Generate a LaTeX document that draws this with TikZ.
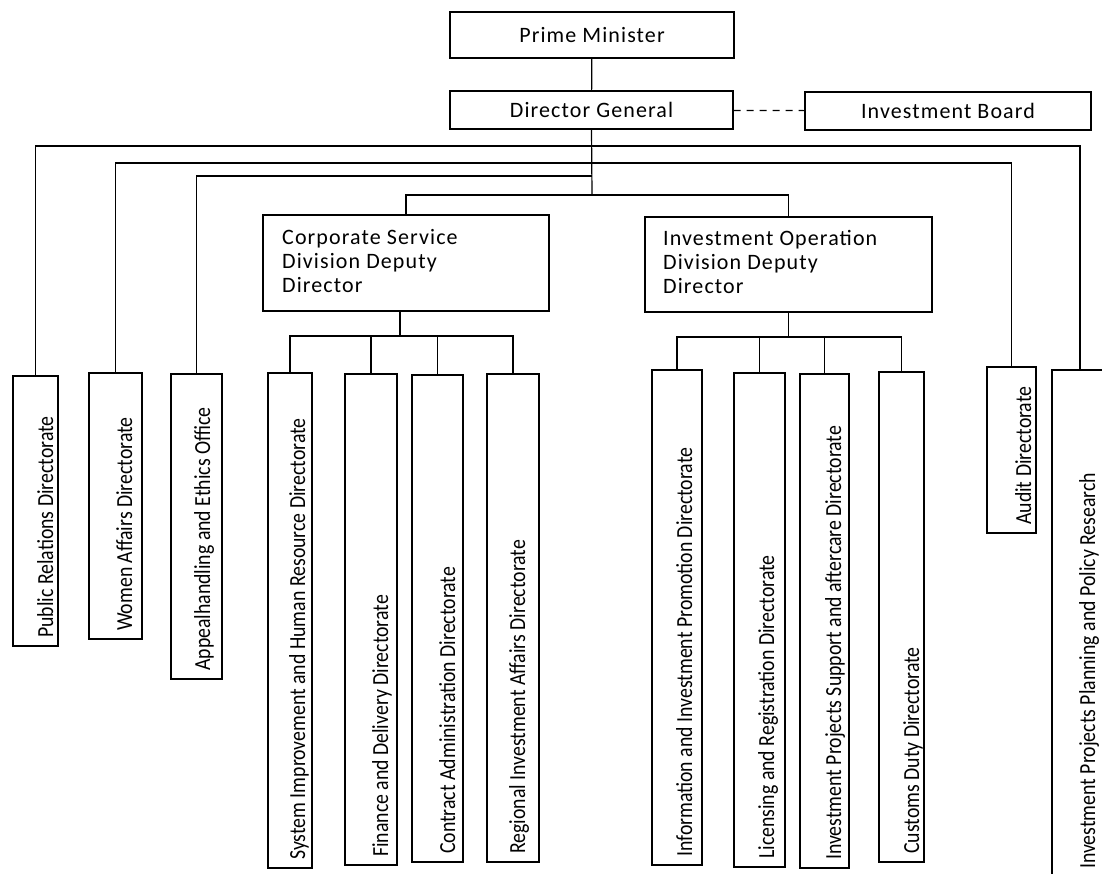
\documentclass[tikz,border=0pt]{standalone}
\usepackage{fontspec}
\newfontfamily\boxfont{Carlito}[LetterSpace=5]
\newfontfamily\vertfont{Carlito}[FakeStretch=0.86]

\tikzset{
  post/.style={draw, line width=1.2pt, inner sep=0pt},
  link/.style={line width=1.2pt},
  htext/.style={inner sep=0pt, font={\boxfont\fontsize{22}{24}\selectfont}},
  vlabel/.style={rotate=90, anchor=base west, inner sep=0pt, font={\vertfont\fontsize{23}{27}\selectfont}}
}

\begin{document}
\begin{tikzpicture}[x=1pt,y=-1pt]
\useasboundingbox (0,0) rectangle (1102,873);
\clip (0,0) rectangle (1102,873);
% top of the chart
\node[post,htext,minimum width=284pt,minimum height=46pt] (pm) at (592,35) {Prime Minister};
\node[post,htext,minimum width=283pt,minimum height=38pt] (dg) at (591.5,110) {Director General};
\node[post,htext,minimum width=286pt,minimum height=38pt] (ib) at (948,111) {Investment Board};
\draw[link] (pm) -- (dg);
\draw[link,dash pattern=on 7pt off 6pt] (dg) -- (ib);
% the two divisions
\node[post,minimum width=286pt,minimum height=96pt] (csd) at (406,263) {};
\node[htext,anchor=north west,align=left] (csd-t) at (282,229) {Corporate Service\\Division Deputy\\Director};
\node[post,minimum width=287pt,minimum height=95pt] (iod) at (788.5,264.5) {};
\node[htext,anchor=north west,align=left] (iod-t) at (663,230) {Investment Operation\\Division Deputy\\Director};
% directorates: name/left/right/top/bottom/baseline/text
\foreach \n/\l/\r/\t/\b/\bx/\txt in {
  pr/13/58/376/646/53/Public Relations Directorate,
  wom/89/142/373/639/132/Women Affairs Directorate,
  app/171/222/374/679/210/Appealhandling and Ethics Office,
  sys/268/312/373/868/305/System Improvement and Human Resource Directorate,
  fin/345/397/374/865/388/Finance and Delivery Directorate,
  con/412/463/375/862/455/Contract Administration Directorate,
  reg/487/539/374/862/525/Regional Investment Affairs Directorate,
  inf/652/702/370/865/692/Information and Investment Promotion Directorate,
  lic/734/785/373/867/774/Licensing and Registration Directorate,
  ips/800/849/374/868/841/Investment Projects Support and aftercare Directorate,
  cus/879/924/372/862/919/Customs Duty Directorate,
  aud/987/1036/367/533/1031/Audit Directorate,
  ipp/1052/1108/370/877/1095/Investment Projects Planning and Policy Research}
{
  \node[post,minimum width={(\r-\l)*1pt},minimum height={(\b-\t)*1pt}] (\n) at ({(\l+\r)/2},{(\t+\b)/2}) {};
  \node[vlabel] (\n-t) at (\bx,{\b-8}) {\txt};
}
% junctions
\coordinate (jA) at (592,146);
\coordinate (jB) at (592,163);
\coordinate (jC) at (592,176);
\coordinate (jD) at (592,195);
\coordinate (jCS) at (400,336);
\coordinate (jIO) at (788.5,337);
\draw[link] (dg.south) -- (jD);
\draw[link] (pr.north) |- (jA) -| (ipp.north);
\draw[link] (wom.north) |- (jB) -| (aud.north);
\draw[link] (app.north) |- (jC);
\draw[link] (csd.north) |- (jD) -| (iod.north);
\draw[link] (csd.south -| jCS) -- (jCS);
\draw[link] (sys.north) |- (jCS) -| (reg.north);
\foreach \n in {fin,con}
  \draw[link] (\n.north) -- (\n.north |- jCS);
\draw[link] (iod.south) -- (jIO);
\draw[link] (inf.north) |- (jIO) -| (cus.north);
\foreach \n in {lic,ips}
  \draw[link] (\n.north) -- (\n.north |- jIO);
\end{tikzpicture}
\end{document}
